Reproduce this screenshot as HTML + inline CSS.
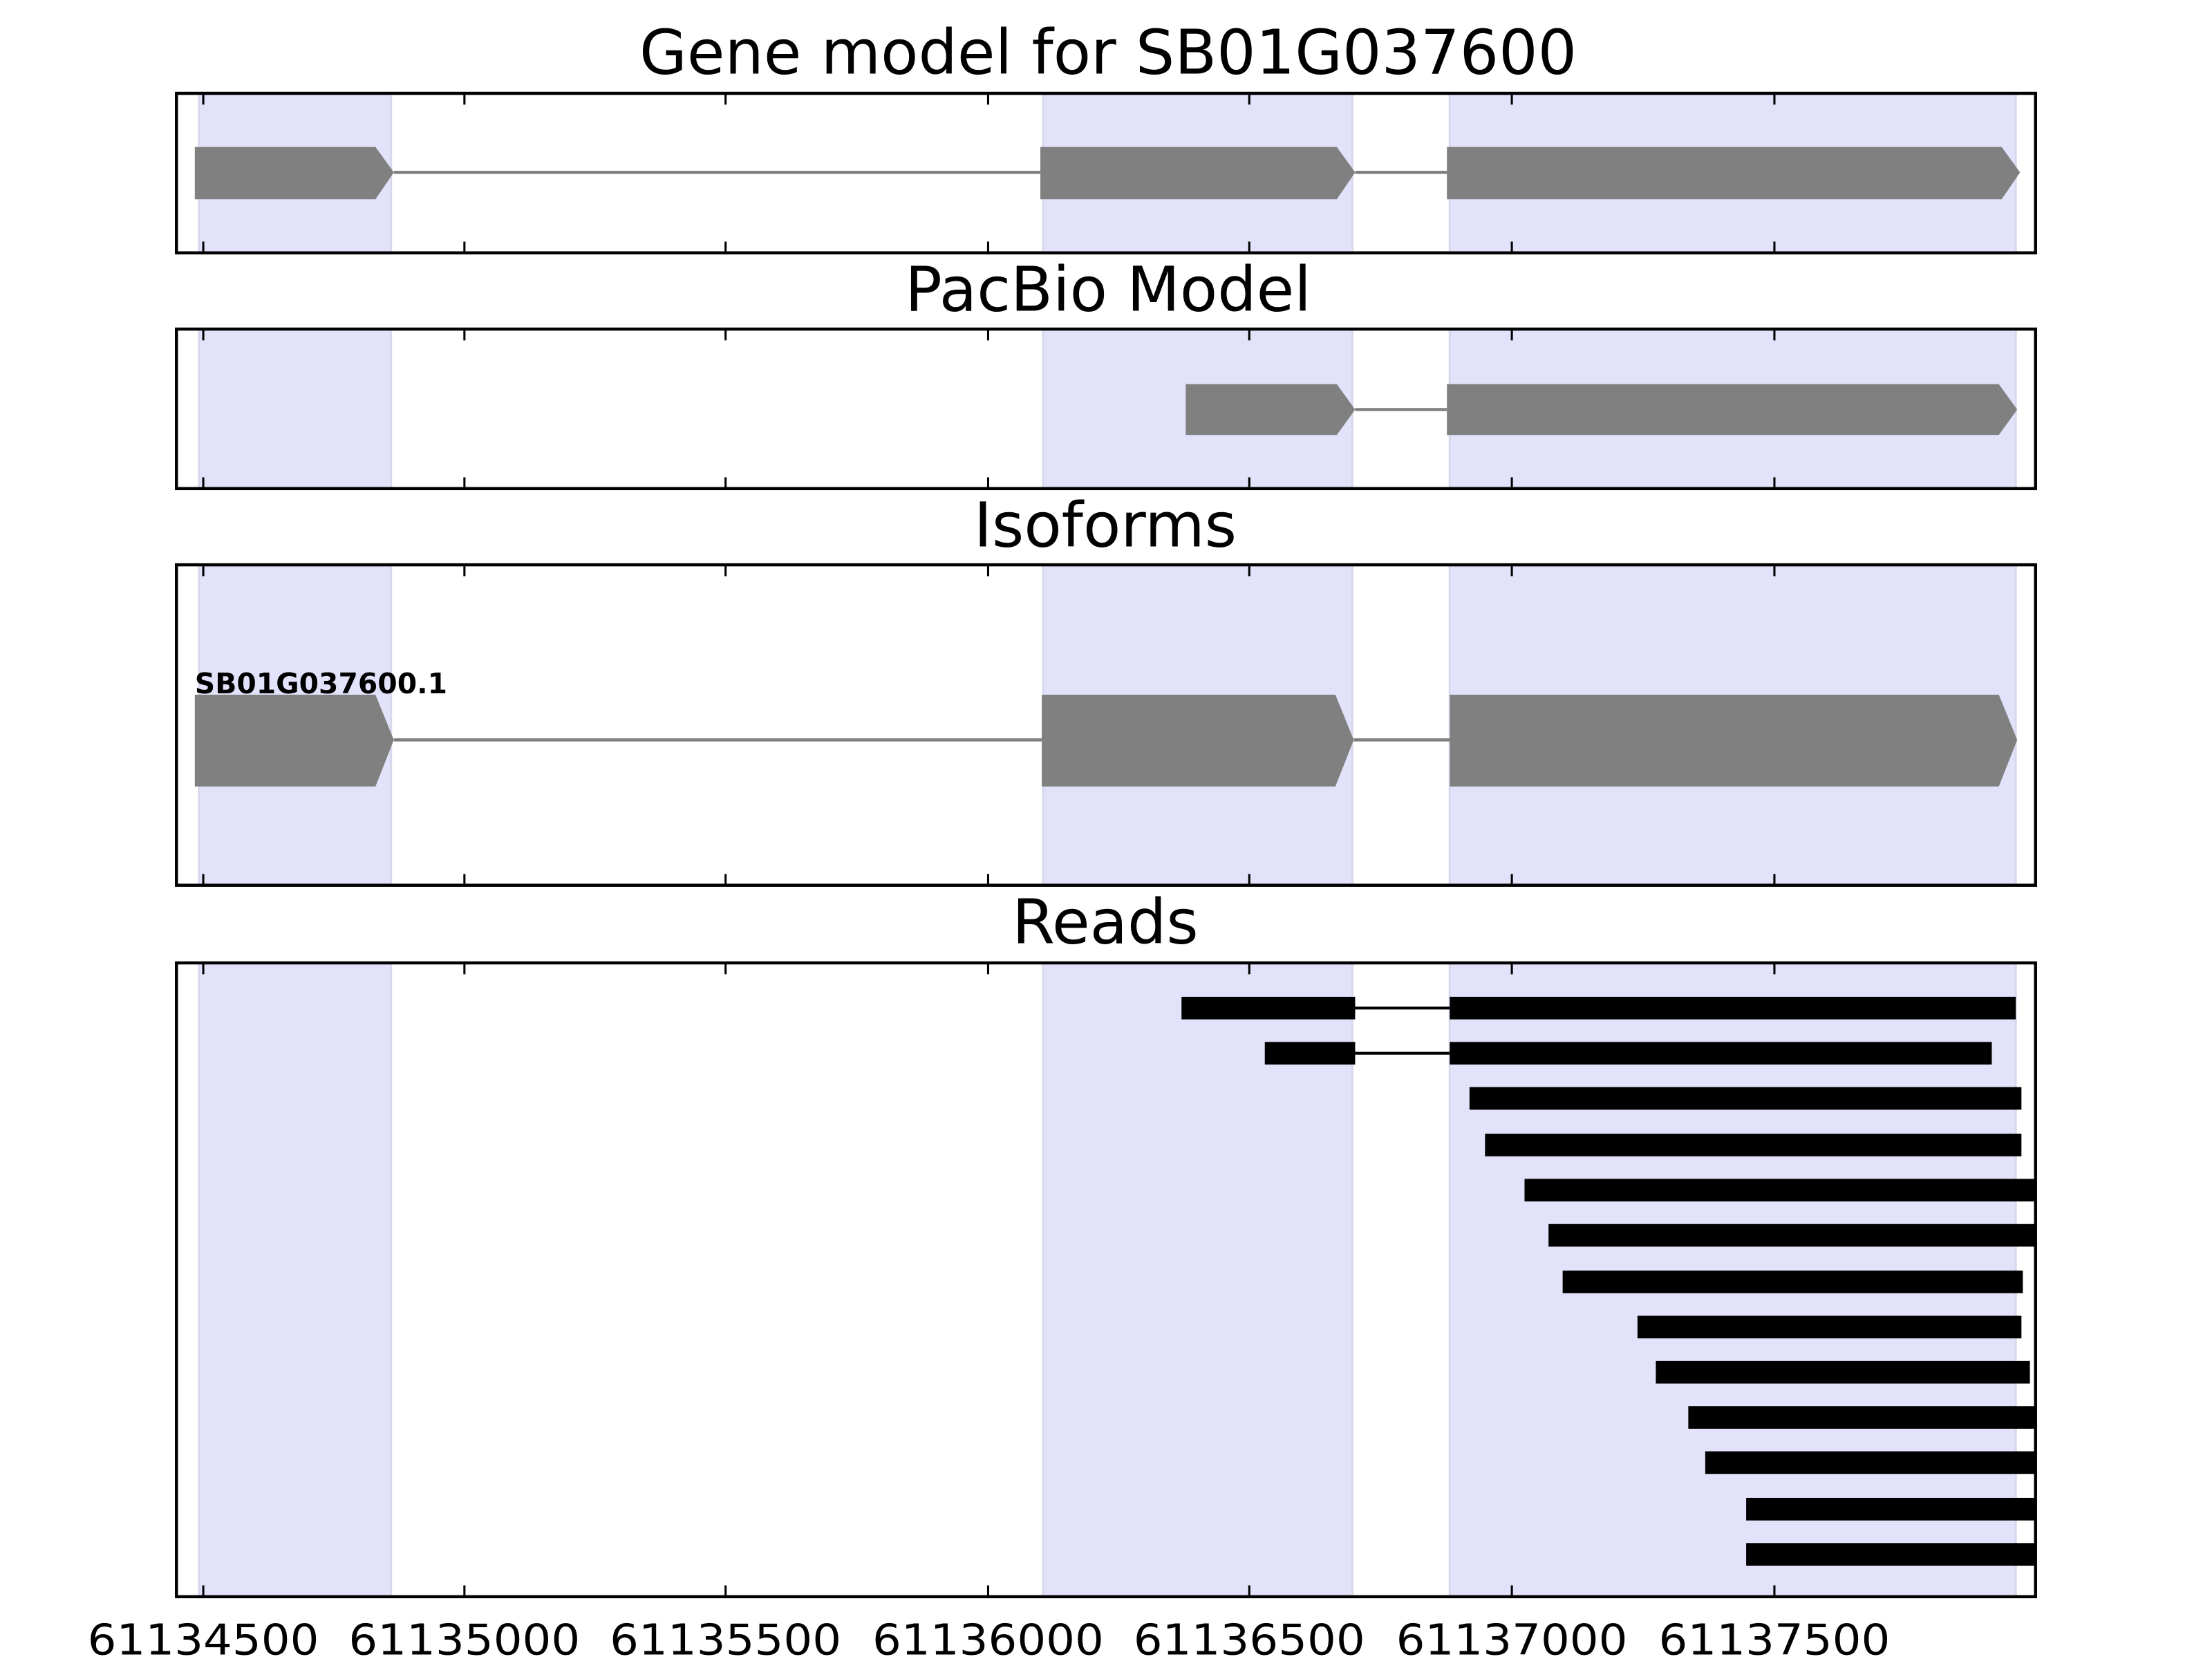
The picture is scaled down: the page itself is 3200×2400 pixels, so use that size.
<!DOCTYPE html>
<html><head><meta charset="utf-8"><style>html,body{margin:0;padding:0;background:#fff}svg{display:block}</style></head>
<body>
<svg xmlns="http://www.w3.org/2000/svg" width="3200" height="2400" viewBox="0 0 1567 1175" font-family="DejaVu Sans, Liberation Sans, sans-serif">
<g fill="#e2e2fb" stroke="#d8d8ec" stroke-width="1.5">
<rect x="141" y="66" width="136" height="113"/><rect x="739" y="66" width="219" height="113"/><rect x="1027" y="66" width="401" height="113"/>
<rect x="141" y="233" width="136" height="113"/><rect x="739" y="233" width="219" height="113"/><rect x="1027" y="233" width="401" height="113"/>
<rect x="141" y="400" width="136" height="227"/><rect x="739" y="400" width="219" height="227"/><rect x="1027" y="400" width="401" height="227"/>
<rect x="141" y="682" width="136" height="449"/><rect x="739" y="682" width="219" height="449"/><rect x="1027" y="682" width="401" height="449"/>
</g>
<g fill="#808080" stroke="#808080" stroke-width="2.2">
<line x1="279" y1="122" x2="737" y2="122"/><line x1="960" y1="122" x2="1025" y2="122"/>
<polygon stroke="none" points="138,104 266,104 279,122 266,141 138,141"/>
<polygon stroke="none" points="737,104 947,104 960,122 947,141 737,141"/>
<polygon stroke="none" points="1025,104 1418,104 1431,122 1418,141 1025,141"/>
<line x1="960" y1="290" x2="1025" y2="290"/>
<polygon stroke="none" points="840,272 947,272 960,290 947,308 840,308"/>
<polygon stroke="none" points="1025,272 1416,272 1429,290 1416,308 1025,308"/>
<line x1="279" y1="524" x2="738" y2="524"/><line x1="959" y1="524" x2="1027" y2="524"/>
<polygon stroke="none" points="138,492 266,492 279,524 266,557 138,557"/>
<polygon stroke="none" points="738,492 946,492 959,524 946,557 738,557"/>
<polygon stroke="none" points="1027,492 1416,492 1429,524 1416,557 1027,557"/>
</g>
<text x="138" y="491" font-size="20" font-weight="bold" fill="#000">SB01G037600.1</text>
<g fill="#000">
<rect x="959" y="713" width="68" height="2"/><rect x="959" y="745" width="68" height="2"/>
<rect x="837" y="706" width="123" height="16"/><rect x="1027" y="706" width="401" height="16"/>
<rect x="896" y="738" width="64" height="16"/><rect x="1027" y="738" width="384" height="16"/>
<rect x="1041" y="770" width="391" height="16"/>
<rect x="1052" y="803" width="380" height="16"/>
<rect x="1080" y="835" width="362" height="16"/>
<rect x="1097" y="867" width="345" height="16"/>
<rect x="1107" y="900" width="326" height="16"/>
<rect x="1160" y="932" width="272" height="16"/>
<rect x="1173" y="964" width="265" height="16"/>
<rect x="1196" y="996" width="246" height="16"/>
<rect x="1208" y="1028" width="234" height="16"/>
<rect x="1237" y="1061" width="205" height="16"/>
<rect x="1237" y="1093" width="205" height="16"/>
</g>
<g fill="none" stroke="#000" stroke-width="2.2">
<rect x="125" y="66" width="1317" height="113"/>
<rect x="125" y="233" width="1317" height="113"/>
<rect x="125" y="400" width="1317" height="227"/>
<rect x="125" y="682" width="1317" height="449"/>
</g>
<g stroke="#000" stroke-width="1.5">
<path d="M144 66v8M329 66v8M514 66v8M700 66v8M885 66v8M1071 66v8M1257 66v8M144 179v-8M329 179v-8M514 179v-8M700 179v-8M885 179v-8M1071 179v-8M1257 179v-8"/>
<path d="M144 233v8M329 233v8M514 233v8M700 233v8M885 233v8M1071 233v8M1257 233v8M144 346v-8M329 346v-8M514 346v-8M700 346v-8M885 346v-8M1071 346v-8M1257 346v-8"/>
<path d="M144 400v8M329 400v8M514 400v8M700 400v8M885 400v8M1071 400v8M1257 400v8M144 627v-8M329 627v-8M514 627v-8M700 627v-8M885 627v-8M1071 627v-8M1257 627v-8"/>
<path d="M144 682v8M329 682v8M514 682v8M700 682v8M885 682v8M1071 682v8M1257 682v8M144 1131v-8M329 1131v-8M514 1131v-8M700 1131v-8M885 1131v-8M1071 1131v-8M1257 1131v-8"/>
</g>
<g font-size="43.5" text-anchor="middle" fill="#000">
<text x="785" y="52">Gene model for SB01G037600</text>
<text x="785" y="220">PacBio Model</text>
<text x="783" y="387">Isoforms</text>
<text x="783" y="668">Reads</text>
</g>
<g font-size="30" text-anchor="middle" fill="#000">
<text x="144" y="1172" textLength="164" lengthAdjust="spacingAndGlyphs">61134500</text>
<text x="329" y="1172" textLength="164" lengthAdjust="spacingAndGlyphs">61135000</text>
<text x="514" y="1172" textLength="164" lengthAdjust="spacingAndGlyphs">61135500</text>
<text x="700" y="1172" textLength="164" lengthAdjust="spacingAndGlyphs">61136000</text>
<text x="885" y="1172" textLength="164" lengthAdjust="spacingAndGlyphs">61136500</text>
<text x="1071" y="1172" textLength="164" lengthAdjust="spacingAndGlyphs">61137000</text>
<text x="1257" y="1172" textLength="164" lengthAdjust="spacingAndGlyphs">61137500</text>
</g>
</svg>
</body></html>
